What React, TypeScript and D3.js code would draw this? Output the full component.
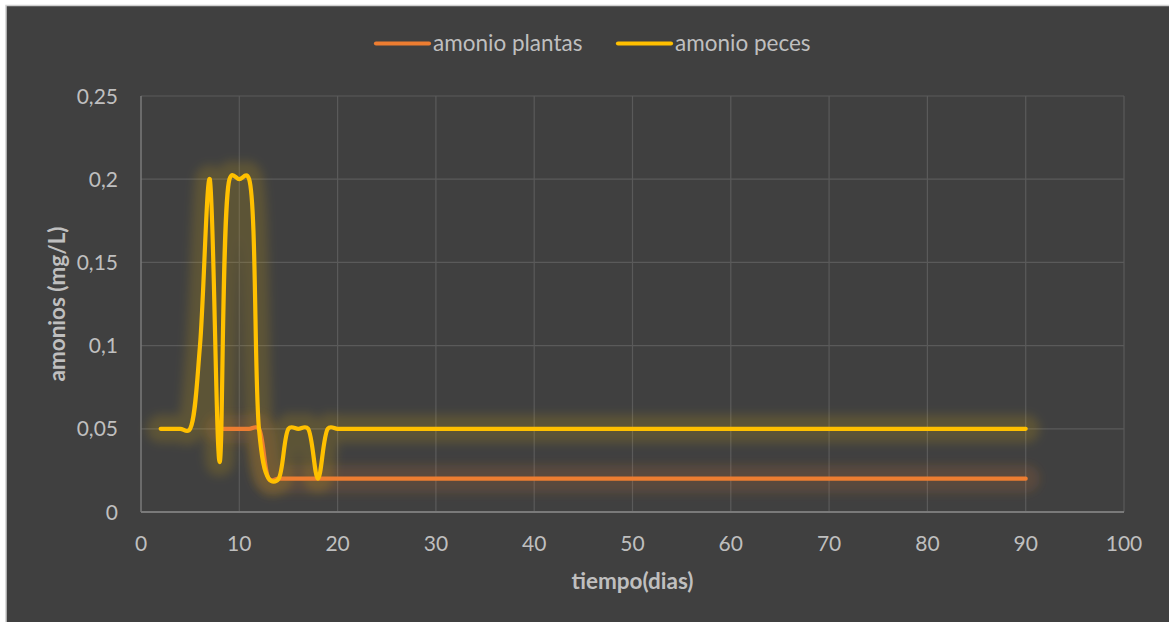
import React from "react";
import * as d3 from "d3";

const W = 1169;
const H = 622;

const daysPeces = [2,3,4,5,6,7,8,9,10,11,12,13,14,15,16,17,18,19,20,21,22,23,24,25,26,27,28,29,30,31,32,33,34,35,36,37,38,39,40,41,42,43,44,45,46,47,48,49,50,51,52,53,54,55,56,57,58,59,60,61,62,63,64,65,66,67,68,69,70,71,72,73,74,75,76,77,78,79,80,81,82,83,84,85,86,87,88,89,90];
const amonioPeces = [0.05,0.05,0.05,0.05,0.1,0.2,0.03,0.2,0.2,0.2,0.05,0.02,0.02,0.05,0.05,0.05,0.02,0.05,0.05,0.05,0.05,0.05,0.05,0.05,0.05,0.05,0.05,0.05,0.05,0.05,0.05,0.05,0.05,0.05,0.05,0.05,0.05,0.05,0.05,0.05,0.05,0.05,0.05,0.05,0.05,0.05,0.05,0.05,0.05,0.05,0.05,0.05,0.05,0.05,0.05,0.05,0.05,0.05,0.05,0.05,0.05,0.05,0.05,0.05,0.05,0.05,0.05,0.05,0.05,0.05,0.05,0.05,0.05,0.05,0.05,0.05,0.05,0.05,0.05,0.05,0.05,0.05,0.05,0.05,0.05,0.05,0.05,0.05,0.05];

const daysPlantas = [8,9,10,11,12,13,14,15,16,17,18,19,20,21,22,23,24,25,26,27,28,29,30,31,32,33,34,35,36,37,38,39,40,41,42,43,44,45,46,47,48,49,50,51,52,53,54,55,56,57,58,59,60,61,62,63,64,65,66,67,68,69,70,71,72,73,74,75,76,77,78,79,80,81,82,83,84,85,86,87,88,89,90];
const amonioPlantas = [0.05,0.05,0.05,0.05,0.05,0.02,0.02,0.02,0.02,0.02,0.02,0.02,0.02,0.02,0.02,0.02,0.02,0.02,0.02,0.02,0.02,0.02,0.02,0.02,0.02,0.02,0.02,0.02,0.02,0.02,0.02,0.02,0.02,0.02,0.02,0.02,0.02,0.02,0.02,0.02,0.02,0.02,0.02,0.02,0.02,0.02,0.02,0.02,0.02,0.02,0.02,0.02,0.02,0.02,0.02,0.02,0.02,0.02,0.02,0.02,0.02,0.02,0.02,0.02,0.02,0.02,0.02,0.02,0.02,0.02,0.02,0.02,0.02,0.02,0.02,0.02,0.02,0.02,0.02,0.02,0.02,0.02,0.02];

const xTicks = [0,10,20,30,40,50,60,70,80,90,100];
const yTicks = [0,0.05,0.1,0.15,0.2,0.25];
const yTickLabels = ["0","0,05","0,1","0,15","0,2","0,25"];

const seriesNames = ["amonio plantas", "amonio peces"];
const seriesColors = ["#ED7D31", "#FFC000"];

const FONT = "Lato, 'Open Sans', sans-serif";

export default function App() {
  const x = d3.scaleLinear().domain([0, 100]).range([141, 1124]);
  const y = d3.scaleLinear().domain([0, 0.25]).range([512, 96]);
  const line = d3
    .line<[number, number]>()
    .x((d) => x(d[0]))
    .y((d) => y(d[1]))
    .curve(d3.curveCatmullRom.alpha(0.3));

  const plantasPts = daysPlantas.map((d, i) => [d, amonioPlantas[i]] as [number, number]);
  const pecesPts = daysPeces.map((d, i) => [d, amonioPeces[i]] as [number, number]);
  const paths = [line(plantasPts) || "", line(pecesPts) || ""];

  const textColor = "#BFBFBF";

  return (
    <svg
      width={W}
      height={H}
      style={{ position: "absolute", left: 0, top: 0, display: "block" }}
      fontFamily={FONT}
    >
      <defs>
        <filter id="glow" x="-10%" y="-50%" width="120%" height="200%">
          <feGaussianBlur stdDeviation="5" />
        </filter>
      </defs>
      <rect x={0} y={0} width={W} height={H} fill="#ffffff" />
      <rect x={6} y={5.5} width={W} height={H} fill="#404040" stroke="#D0D0D0" strokeWidth={1.5} />

      {/* gridlines */}
      {yTicks.filter((t) => t > 0).map((t) => (
        <line key={"gy" + t} x1={x(0)} x2={x(100)} y1={y(t)} y2={y(t)} stroke="#5A5A5A" strokeWidth={1.2} />
      ))}
      {xTicks.filter((t) => t > 0).map((t) => (
        <line key={"gx" + t} x1={x(t)} x2={x(t)} y1={y(0)} y2={y(0.25)} stroke="#5A5A5A" strokeWidth={1.2} />
      ))}
      {/* axes */}
      <line x1={x(0)} x2={x(0)} y1={y(0)} y2={y(0.25)} stroke="#7A7A7A" strokeWidth={1.5} />
      <line x1={x(0)} x2={x(100)} y1={y(0)} y2={y(0)} stroke="#7A7A7A" strokeWidth={2} />

      {/* tick labels */}
      {yTicks.map((t, i) => (
        <text key={"ly" + t} x={118} y={y(t)} dy="0.36em" textAnchor="end" fontSize={21} fill={textColor}>
          {yTickLabels[i]}
        </text>
      ))}
      {xTicks.map((t) => (
        <text key={"lx" + t} x={x(t)} y={551} textAnchor="middle" fontSize={21} fill={textColor}>
          {t}
        </text>
      ))}

      {/* axis titles */}
      <text x={(x(0) + x(100)) / 2} y={589} textAnchor="middle" fontSize={22.5} fontWeight="bold" fill={textColor}>
        tiempo(dias)
      </text>
      <text
        transform={`translate(65,${(y(0) + y(0.25)) / 2}) rotate(-90)`}
        textAnchor="middle"
        fontSize={22.5}
        fontWeight="bold"
        fill={textColor}
      >
        amonios (mg/L)
      </text>

      {/* glows */}
      {paths.map((p, i) => (
        <path key={"g" + i} d={p} fill="none" stroke={seriesColors[i]} strokeWidth={28} strokeOpacity={0.15} strokeLinecap="round" strokeLinejoin="round" filter="url(#glow)" />
      ))}
      {/* lines */}
      {paths.map((p, i) => (
        <path key={"l" + i} d={p} fill="none" stroke={seriesColors[i]} strokeWidth={4.2} strokeLinecap="round" strokeLinejoin="round" />
      ))}

      {/* legend */}
      {seriesNames.map((n, i) => {
        const lx = i === 0 ? 376 : 618;
        return (
          <g key={"leg" + i}>
            <line x1={lx} x2={lx + 53} y1={43.5} y2={43.5} stroke={seriesColors[i]} strokeWidth={4.2} strokeLinecap="round" />
            <text x={lx + 57} y={51} fontSize={22.5} fill={textColor}>
              {n}
            </text>
          </g>
        );
      })}
    </svg>
  );
}
